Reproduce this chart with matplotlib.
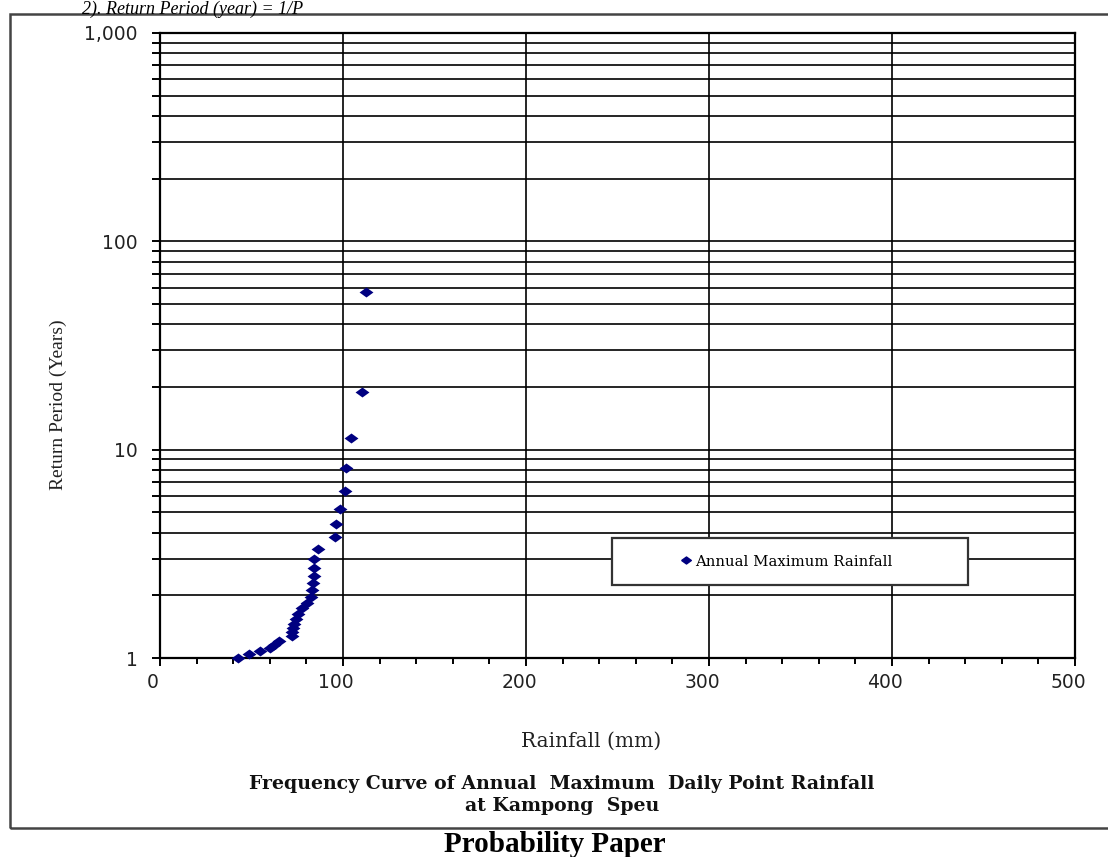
import numpy as np
import matplotlib
matplotlib.use("Agg")
import matplotlib.pyplot as plt
import matplotlib.transforms as mtransforms
from matplotlib.patches import Rectangle
from matplotlib.lines import Line2D

# annual maximum daily rainfall (mm), ranked from largest down
rainfall = [112.6, 110.4, 104.4, 101.5, 101.3, 98.5, 96.0, 95.8, 86.5, 84.4,
            84.3, 83.9, 83.8, 83.2, 82.5, 80.5, 77.4, 75.6, 74.1, 73.4,
            72.9, 72.3, 72.0, 65.2, 62.3, 60.1, 54.6, 48.6, 42.6]
# return period (years)
ret_period = [57.0, 19.0, 11.4, 8.14, 6.33, 5.18, 4.38, 3.80, 3.35, 3.00,
              2.71, 2.48, 2.28, 2.11, 1.97, 1.84, 1.73, 1.63, 1.54, 1.46,
              1.39, 1.33, 1.27, 1.21, 1.16, 1.12, 1.08, 1.04, 1.00]

x_ticks = [0, 100, 200, 300, 400, 500]
y_ticks = [1, 10, 100, 1000]
y_tick_labels = ['1', '10', '100', '1,000']

navy = '#000080'
diamond = [(-1, 0), (0, 0.72), (1, 0), (0, -0.72), (-1, 0)]

fig = plt.figure(figsize=(11.08, 8.57), dpi=100)
ax = fig.add_axes([160 / 1108, 1 - 658 / 857, 915 / 1108, 625 / 857])

ax.scatter(rainfall, ret_period, marker=diamond, s=100, color=navy,
           linewidths=0, zorder=5, clip_on=False)

ax.set_yscale('log')
ax.set_xlim(0, 500)
ax.set_ylim(1, 1000)
ax.set_xticks(x_ticks)
ax.set_xticks(np.arange(0, 501, 20), minor=True)
ax.set_yticks(y_ticks)
ax.set_yticklabels(y_tick_labels)
minor_y = [m * 10 ** e for e in range(3) for m in range(2, 10)]
ax.set_yticks(minor_y, minor=True)
ax.yaxis.set_minor_formatter(plt.NullFormatter())

ax.grid(True, which='major', axis='x', color='black', lw=1.2)
ax.grid(True, which='both', axis='y', color='black', lw=1.2)
ax.set_axisbelow(True)

for s in ax.spines.values():
    s.set_color('black')
    s.set_linewidth(1.6)

ax.tick_params(axis='x', which='major', direction='out', length=6, width=1.4,
               pad=5, labelsize=13.5, labelcolor='#222222')
ax.tick_params(axis='x', which='minor', direction='out', length=4, width=1.4)
ax.tick_params(axis='y', which='both', direction='out', length=6, width=1.4)
ax.tick_params(axis='y', which='major', pad=10, labelsize=13.5,
               labelcolor='#222222')
shift = mtransforms.ScaledTranslation(-7 / 100, 0, fig.dpi_scale_trans)
for lab in ax.get_xticklabels():
    lab.set_transform(lab.get_transform() + shift)
for lab in ax.get_xticklabels() + ax.get_yticklabels():
    lab.set_family('DejaVu Sans')

# legend box
box = Rectangle((0.494, 0.1168), 0.389, 0.075, transform=ax.transAxes,
                facecolor='white', edgecolor='#333333', lw=1.6, zorder=6)
ax.add_patch(box)
handle = Line2D([], [], marker=diamond, color=navy, ls='none', markersize=7)
leg = ax.legend([handle], ['Annual Maximum Rainfall'], loc='center',
                bbox_to_anchor=(0.494 + 0.389 / 2 - 0.003, 0.1168 + 0.075 / 2),
                frameon=False, handlelength=0.6, handletextpad=0.3,
                prop={'family': 'DejaVu Serif', 'size': 10.7})
leg.set_zorder(7)

# outer chart frame
frame = Rectangle((10 / 1108, 1 - 828 / 857), 1.2, (828 - 14) / 857,
                  transform=fig.transFigure, fill=False,
                  edgecolor='#444444', lw=1.8)
fig.patches.append(frame)

fig.text(591 / 1108, 1 - 741 / 857, 'Rainfall (mm)', ha='center', va='center',
         family='DejaVu Serif', fontsize=14.5, color='#222222')
fig.text(58 / 1108, 1 - 405 / 857, 'Return Period (Years)', ha='center',
         va='center', rotation=90, family='Liberation Serif', fontsize=14,
         color='#222222')
fig.text(562 / 1108, 1 - 795 / 857,
         'Frequency Curve of Annual  Maximum  Daily Point Rainfall\nat Kampong  Speu',
         ha='center', va='center', family='DejaVu Serif', fontweight='bold',
         fontsize=13.6, linespacing=1.25, color='#111111')
fig.text(555 / 1108, 1 - 845 / 857, 'Probability Paper', ha='center',
         va='center', family='Liberation Serif', fontweight='bold',
         fontsize=21)
fig.text(82 / 1108, 1 - 1 / 857, '2). Return Period (year) = 1/P',
         ha='left', va='top', family='Liberation Serif',
         style='italic', fontsize=13)

fig.savefig('out.png', dpi=100)
